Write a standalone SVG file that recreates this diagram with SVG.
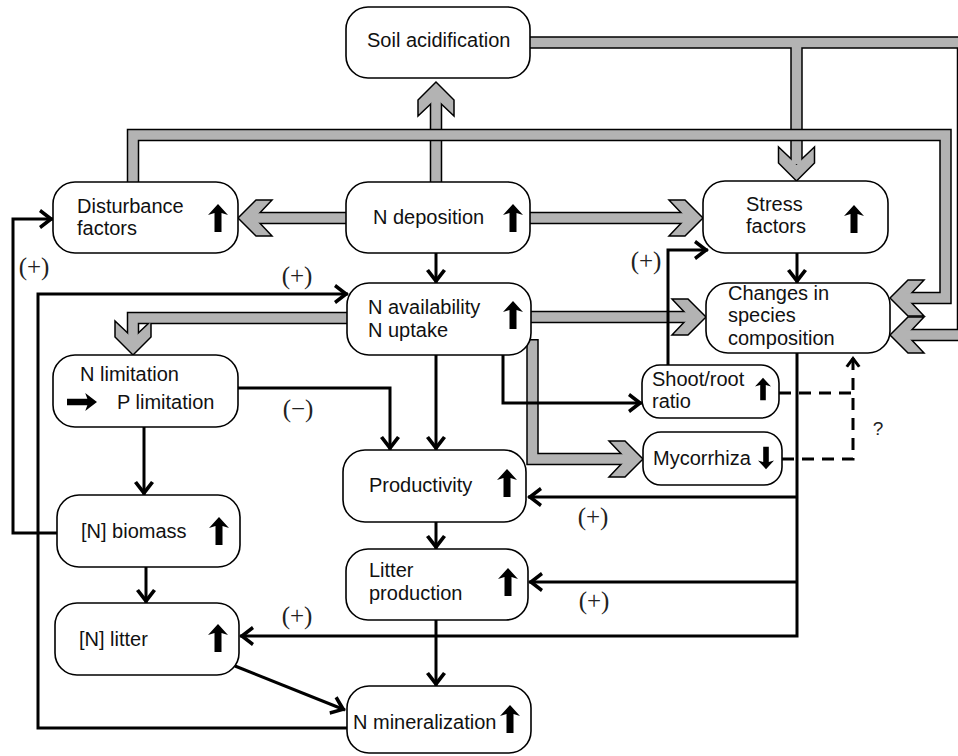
<svg xmlns="http://www.w3.org/2000/svg" width="958" height="756" viewBox="0 0 958 756">
<style>
.bk{fill:none;stroke:#000;stroke-width:12.5;stroke-linejoin:miter}
.gy{fill:none;stroke:#b3b3b3;stroke-width:9.5;stroke-linejoin:miter}
.chev{fill:#b3b3b3;stroke:#000;stroke-width:1.5;stroke-linejoin:miter}
.ln{fill:none;stroke:#000;stroke-width:3;marker-end:url(#ah)}
.ln0{fill:none;stroke:#000;stroke-width:3}
.dash{fill:none;stroke:#000;stroke-width:3;stroke-dasharray:12 8}
.box{fill:#fff;stroke:#000;stroke-width:1.6}
.t{font-family:"Liberation Sans",Arial,Helvetica,sans-serif;font-size:20px;fill:#111}
.lb{font-family:"Liberation Serif","Times New Roman",serif;font-size:25px;fill:#222;text-anchor:middle}
.q{font-family:"Liberation Sans",Arial,sans-serif;font-size:19px;fill:#222;text-anchor:middle}
</style>
<defs>
<path id="chv" d="M0,0 L-18,-18 L-34,-18 L-17,0 L-34,18 L-18,18 Z"/>
<path id="up" d="M0,-14 L10,-3 L3.5,-5 L3.5,14 L-3.5,14 L-3.5,-5 L-10,-3 Z"/>
<marker id="ah" viewBox="-16 -12 18 24" refX="0" refY="0" markerWidth="18" markerHeight="24" orient="auto" markerUnits="userSpaceOnUse">
<path d="M1,0 L-12,-10 L-14,-7 L-5,0 L-14,7 L-12,10 Z"/>
</marker>
<marker id="ahs" viewBox="-13 -10 15 20" refX="0" refY="0" markerWidth="15" markerHeight="20" orient="auto" markerUnits="userSpaceOnUse">
<path d="M1,0 L-9,-7.5 L-10.5,-5 L-4,0 L-10.5,5 L-9,7.5 Z"/>
</marker>
</defs>

<g id="connectors">
<!-- gray bands -->
<g id="band-ndep-soil">
<path class="bk" d="M436,183 V99"/>
<use href="#chv" class="chev" transform="translate(436,82) rotate(-90)"/>
<path class="gy" d="M436,183 V98"/>
</g>
<g id="band-soil">
<path class="bk" d="M529,42.5 H963 V335 H907"/>
<path class="bk" d="M796.5,42.5 V165"/>
<use href="#chv" class="chev" transform="translate(890,335) rotate(180)"/>
<use href="#chv" class="chev" transform="translate(796.5,181) rotate(90)"/>
<path class="gy" d="M529,42.5 H963 V335 H906"/>
<path class="gy" d="M796.5,42.5 V164"/>
</g>
<g id="band-dist">
<path class="bk" d="M133,183 V135 H945.5 V298 H907"/>
<use href="#chv" class="chev" transform="translate(890,298) rotate(180)"/>
<path class="gy" d="M133,183 V135 H945.5 V298 H906"/>
</g>
<g id="band-ndep-dist">
<path class="bk" d="M347,218 H255"/>
<use href="#chv" class="chev" transform="translate(238,218) rotate(180)"/>
<path class="gy" d="M347,218 H254"/>
</g>
<g id="band-ndep-stress">
<path class="bk" d="M529,218 H686"/>
<use href="#chv" class="chev" transform="translate(703,218)"/>
<path class="gy" d="M529,218 H687"/>
</g>
<g id="band-navail-changes">
<path class="bk" d="M530,317 H689"/>
<use href="#chv" class="chev" transform="translate(706,317)"/>
<path class="gy" d="M530,317 H690"/>
</g>
<g id="band-navail-nlim">
<path class="bk" d="M348,318 H133 V339"/>
<use href="#chv" class="chev" transform="translate(133,355) rotate(90)"/>
<path class="gy" d="M348,318 H133 V340"/>
</g>
<g id="band-navail-myco">
<path class="bk" d="M532.5,339 V459 H626"/>
<use href="#chv" class="chev" transform="translate(643,459)"/>
<path class="gy" d="M532.5,340.5 V459 H627"/>
</g>

<!-- black connectors -->
<path class="ln" d="M436,253 V283"/>
<path class="ln" d="M797,253 V283"/>
<path class="ln" d="M57,533 H13 V219 H53"/>
<path class="ln" d="M347,728 H38 V294 H348"/>
<path class="ln" d="M238,388 H390 V450"/>
<path class="ln" d="M436,355 V450"/>
<path class="ln" d="M503,355 V403 H642"/>
<path class="ln" d="M668,365 V250 H708"/>
<path class="ln" d="M144,427 V495"/>
<path class="ln" d="M146,567 V603"/>
<path class="ln" d="M436,522 V549"/>
<path class="ln" d="M436,620 V686"/>
<path class="ln" d="M235,666 L345,710"/>
<path class="ln" d="M797,353 V636 H240"/>
<path class="ln" d="M797,497 H528"/>
<path class="ln" d="M797,582 H529"/>
<path class="dash" d="M779,393 H853"/>
<path class="dash" d="M782,459 H853 V357" style="marker-end:url(#ahs)"/>
</g>

<g id="labels">
<text class="lb" x="34" y="275">(+)</text>
<text class="lb" x="297" y="284">(+)</text>
<text class="lb" x="298" y="417">(−)</text>
<text class="lb" x="646" y="269">(+)</text>
<text class="lb" x="593" y="525">(+)</text>
<text class="lb" x="594" y="609">(+)</text>
<text class="lb" x="297" y="624">(+)</text>
<text class="q" x="878" y="435">?</text>
</g>

<g id="node-soil">
<rect class="box" x="346" y="7" width="184" height="71" rx="22"/>
<text class="t" x="367" y="47">Soil acidification</text>
</g>
<g id="node-disturbance">
<rect class="box" x="53" y="182" width="185" height="71" rx="22"/>
<text class="t" x="77" y="213">Disturbance</text>
<text class="t" x="77" y="235">factors</text>
<use href="#up" transform="translate(218,218)"/>
</g>
<g id="node-ndeposition">
<rect class="box" x="346" y="182" width="184" height="71" rx="22"/>
<text class="t" x="373" y="224">N deposition</text>
<use href="#up" transform="translate(513,218)"/>
</g>
<g id="node-stress">
<rect class="box" x="703" y="181" width="185" height="72" rx="22"/>
<text class="t" x="746" y="211">Stress</text>
<text class="t" x="746" y="233">factors</text>
<use href="#up" transform="translate(854,219)"/>
</g>
<g id="node-navailability">
<rect class="box" x="347" y="283" width="184" height="72" rx="22"/>
<text class="t" x="368" y="314">N availability</text>
<text class="t" x="368" y="337">N uptake</text>
<use href="#up" transform="translate(513,315)"/>
</g>
<g id="node-changes">
<rect class="box" x="706" y="283" width="184" height="70" rx="22"/>
<text class="t" x="728" y="300">Changes in</text>
<text class="t" x="728" y="322">species</text>
<text class="t" x="728" y="345">composition</text>
</g>
<g id="node-nlimitation">
<rect class="box" x="53" y="355" width="185" height="72" rx="22"/>
<text class="t" x="80" y="381">N limitation</text>
<use href="#up" transform="translate(82,402) rotate(90) scale(0.9,1.07)"/>
<text class="t" x="117" y="409">P limitation</text>
</g>
<g id="node-shootroot">
<rect class="box" x="642" y="365" width="137" height="53" rx="18"/>
<text class="t" x="652" y="386">Shoot/root</text>
<text class="t" x="652" y="408">ratio</text>
<use href="#up" transform="translate(763,389) scale(0.8)"/>
</g>
<g id="node-mycorrhiza">
<rect class="box" x="643" y="432" width="139" height="53" rx="18"/>
<text class="t" x="653" y="465">Mycorrhiza</text>
<use href="#up" transform="translate(766,458) rotate(180) scale(0.8)"/>
</g>
<g id="node-productivity">
<rect class="box" x="343" y="450" width="183" height="72" rx="22"/>
<text class="t" x="369" y="492">Productivity</text>
<use href="#up" transform="translate(507,483)"/>
</g>
<g id="node-nbiomass">
<rect class="box" x="57" y="495" width="183" height="72" rx="22"/>
<text class="t" x="81" y="538">[N] biomass</text>
<use href="#up" transform="translate(219,531)"/>
</g>
<g id="node-litterproduction">
<rect class="box" x="346" y="549" width="182" height="71" rx="22"/>
<text class="t" x="369" y="577">Litter</text>
<text class="t" x="369" y="600">production</text>
<use href="#up" transform="translate(508,582)"/>
</g>
<g id="node-nlitter">
<rect class="box" x="55" y="603" width="184" height="72" rx="22"/>
<text class="t" x="79" y="646">[N] litter</text>
<use href="#up" transform="translate(218,638)"/>
</g>
<g id="node-nmineralization">
<rect class="box" x="347" y="686" width="184" height="67" rx="22"/>
<text class="t" x="353" y="729">N mineralization</text>
<use href="#up" transform="translate(510,719)"/>
</g>
</svg>
